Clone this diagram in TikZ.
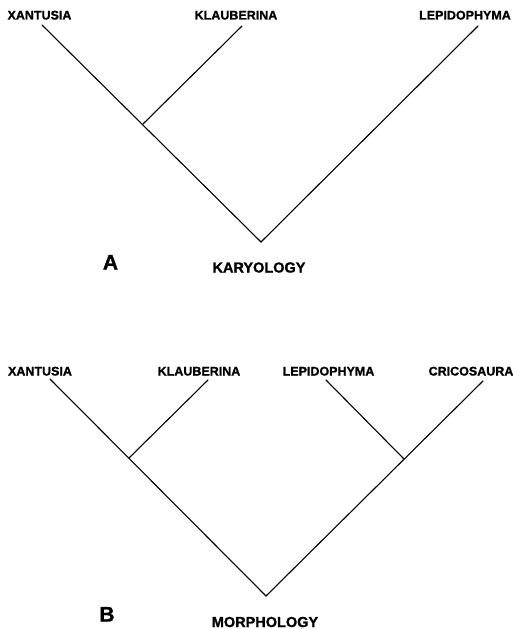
\documentclass[tikz,border=0pt]{standalone}
\usepackage{fontspec}
\setmainfont{Liberation Sans}[BoldFeatures={FakeBold=1.2}]
\usetikzlibrary{positioning}

\begin{document}
\begin{tikzpicture}[
  x=1pt, y=-1pt,
  taxon/.style={anchor=base, inner sep=0pt, font=\fontsize{12.5}{14}\selectfont\bfseries},
  method/.style={anchor=base, inner sep=0pt, font=\fontsize{14.5}{16}\selectfont\bfseries},
  panel/.style={anchor=base, inner sep=0pt, font=\fontsize{21}{24}\selectfont\bfseries},
  branch/.style={line width=1.1pt, line cap=round}
]
\useasboundingbox (0,0) rectangle (513,629);

% === A: karyology tree ===
\node[taxon] (xanA)  at ( 39.5, 19.5) {XANTUSIA};
\node[taxon] (klaA)  at (236.0, 19.5) {KLAUBERINA};
\node[taxon] (lepA)  at (465.0, 19.5) {LEPIDOPHYMA};

\coordinate (xanAtip) at ( 42, 25);
\coordinate (klaAtip) at (242, 26);
\coordinate (lepAtip) at (478, 26);
\coordinate (xkA)     at (143, 124);
\coordinate (rootA)   at (261, 242);

\draw[branch] (xanAtip) -- (rootA) -- (lepAtip);
\draw[branch] (klaAtip) -- (xkA);

\node[panel]  (labA)  at (110.5, 269.5) {A};
\node[method] (kary)  at (259.0, 272.5) {KARYOLOGY};

% === B: morphology tree ===
\node[taxon] (xanB)  at ( 40.0, 375.5) {XANTUSIA};
\node[taxon] (klaB)  at (199.0, 375.5) {KLAUBERINA};
\node[taxon] (lepB)  at (328.5, 375.5) {LEPIDOPHYMA};
\node[taxon] (criB)  at (471.0, 375.5) {CRICOSAURA};

\coordinate (xanBtip) at ( 50, 379);
\coordinate (klaBtip) at (208, 380);
\coordinate (lepBtip) at (326, 380);
\coordinate (criBtip) at (483, 381);
\coordinate (xkB)     at (129, 458);
\coordinate (lcB)     at (404, 459);
\coordinate (rootB)   at (266, 596);

\draw[branch] (xanBtip) -- (rootB) -- (criBtip);
\draw[branch] (klaBtip) -- (xkB);
\draw[branch] (lepBtip) -- (lcB);

\node[panel]  (labB)  at (107.0, 621.5) {B};
\node[method] (morph) at (265.0, 627.0) {MORPHOLOGY};

\end{tikzpicture}
\end{document}
